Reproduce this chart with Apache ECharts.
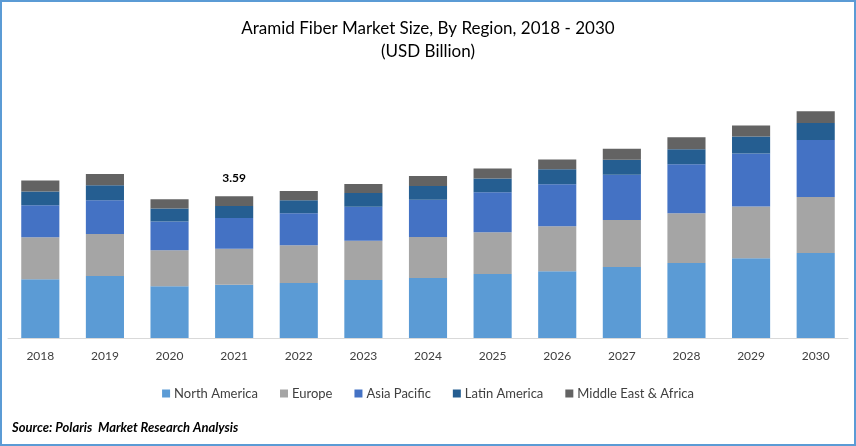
<!DOCTYPE html>
<html>
<head>
<meta charset="utf-8">
<script src="https://cdn.jsdelivr.net/npm/echarts@6/dist/echarts.min.js"></script>
<style>
html,body{margin:0;padding:0;background:#fff;}
#chart{width:856px;height:446px;}
</style>
</head>
<body>
<div id="chart"></div>
<script>
const categories = ['2018','2019','2020','2021','2022','2023','2024','2025','2026','2027','2028','2029','2030'];
const northAmerica = [1.49,1.57,1.31,1.35,1.39,1.47,1.52,1.62,1.69,1.80,1.90,2.02,2.15];
const europe       = [1.06,1.06,0.91,0.91,0.96,0.99,1.04,1.06,1.14,1.19,1.26,1.31,1.42];
const asiaPacific  = [0.81,0.86,0.73,0.78,0.81,0.86,0.94,1.01,1.06,1.14,1.24,1.34,1.44];
const latinAmerica = [0.35,0.38,0.33,0.30,0.33,0.35,0.35,0.35,0.38,0.38,0.38,0.43,0.43];
const middleEast   = [0.28,0.28,0.23,0.25,0.23,0.23,0.25,0.25,0.25,0.28,0.30,0.28,0.30];
const labeledIndex = 3;

const FONT = 'Lato, "Open Sans", sans-serif';
const chart = echarts.init(document.getElementById('chart'));
function total(i){
  return northAmerica[i]+europe[i]+asiaPacific[i]+latinAmerica[i]+middleEast[i];
}
const seriesDefs = [
  ['North America', northAmerica, '#5B9BD5'],
  ['Europe', europe, '#A5A5A5'],
  ['Asia Pacific', asiaPacific, '#4472C4'],
  ['Latin America', latinAmerica, '#255E91'],
  ['Middle East & Africa', middleEast, '#636363']
];
const series = seriesDefs.map(function(d, si){
  const s = {
    name: d[0], type: 'bar', stack: 'total', barWidth: '59%',
    itemStyle: {color: d[2]},
    data: d[1].slice()
  };
  if (si === seriesDefs.length - 1) {
    s.data = d[1].map(function(v, i){
      if (i === labeledIndex) {
        return {value: v, label: {show: true, position: 'top', distance: 12,
          formatter: function(){ return total(i).toFixed(2); },
          fontFamily: FONT, fontSize: 12, fontWeight: 'bold', color: '#000'}};
      }
      return v;
    });
  }
  return s;
});
chart.setOption({
  animation: false,
  backgroundColor: '#fff',
  title: {
    text: 'Aramid Fiber Market Size, By Region, 2018 - 2030\n(USD Billion)',
    left: 'center', top: 12,
    textStyle: {fontFamily: FONT, fontSize: 17, fontWeight: 'normal', color: '#000', lineHeight: 23}
  },
  legend: {
    bottom: 41, left: 'center', icon: 'rect', itemWidth: 8, itemHeight: 8, itemGap: 22,
    textStyle: {fontFamily: FONT, fontSize: 13, color: '#404040', padding: [0,0,0,-1]},
    data: seriesDefs.map(d => d[0])
  },
  grid: {left: 8, right: 8, top: 101, bottom: 108, containLabel: false},
  xAxis: {
    type: 'category', data: categories,
    axisLine: {lineStyle: {color: '#D9D9D9', width: 1}},
    axisTick: {show: false},
    axisLabel: {fontFamily: FONT, fontSize: 12, color: '#404040', margin: 12}
  },
  yAxis: {type: 'value', min: 0, max: 6, show: false, splitLine: {show: false}},
  graphic: [
    {type: 'rect', shape: {x: 1, y: 1, width: 854, height: 444},
     style: {fill: 'none', stroke: '#5B9BD5', lineWidth: 2}, silent: true, z: 100},
    {type: 'text', left: 12, top: 421,
     style: {text: 'Source: Polaris  Market Research Analysis', fontFamily: FONT, fontSize: 13,
       fontWeight: 'bold', fontStyle: 'italic', fill: '#000'}}
  ],
  series: series
});
</script>
</body>
</html>
